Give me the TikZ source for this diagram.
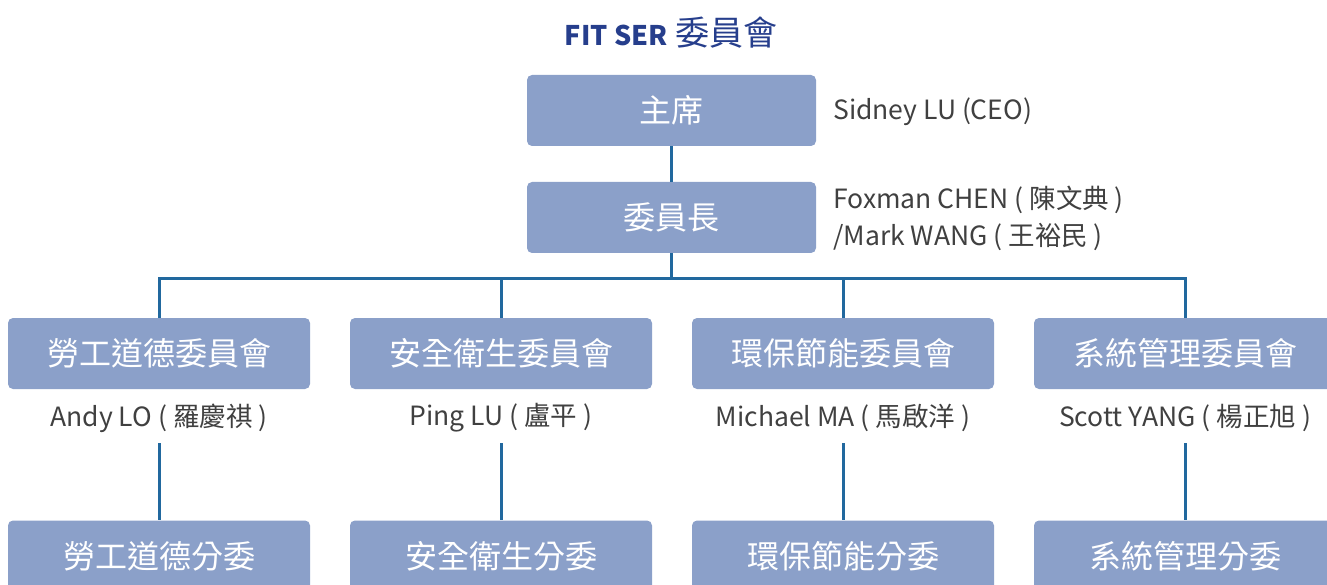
\documentclass[tikz,border=0pt]{standalone}
\usepackage{fontspec}
\setmainfont{Noto Sans CJK TC}
\definecolor{boxfill}{RGB}{139,160,201}
\definecolor{linkblue}{RGB}{33,104,158}
\definecolor{titleblue}{RGB}{38,62,140}
\definecolor{namegray}{RGB}{64,64,64}
\tikzset{
  unitbox/.style={fill=boxfill, rounded corners=5pt, minimum width=302pt, minimum height=71pt,
    inner sep=0pt, text=white, font=\fontsize{32}{38}\selectfont},
  topbox/.style={unitbox, minimum width=289pt},
  person/.style={text=namegray, inner sep=0pt, font=\fontsize{26.5}{37}\selectfont},
  link/.style={draw=linkblue, line width=3pt}
}
\begin{document}
\begin{tikzpicture}[x=1pt,y=-1pt]
    \useasboundingbox (0,0) rectangle (1327,585);
    \clip (0,0) rectangle (1327,585);
    % title
    \node[text=titleblue, font=\fontsize{34}{40}\selectfont] (title) at (671,33)
      {{\fontsize{27}{32}\selectfont\bfseries FIT SER} 委員會};
    % top of the chart
    \node[topbox] (chair) at (671.5,110.5) {主席};
    \node[topbox] (head) at (671.5,217.5) {委員長};
    \node[person, anchor=west] (chairname) at (833,112) {Sidney LU (CEO)};
    \node[person, anchor=west, align=left] (headname) at (833,218) {Foxman CHEN ( 陳文典 )\\/Mark WANG ( 王裕民 )};
    \draw[link] (chair) -- (head);
    \coordinate (bus) at (671.5,278);
    \draw[link] (head) -- (bus);
    % committees
    \node[unitbox] (labour) at (159,353.5) {勞工道德委員會};
    \node[unitbox] (safety) at (501,353.5) {安全衛生委員會};
    \node[unitbox] (env) at (843,353.5) {環保節能委員會};
    \node[unitbox] (sys) at (1185,353.5) {系統管理委員會};
    \draw[link] (labour.north) |- (bus) -| (sys.north);
    \draw[link] (bus) -| (safety.north);
    \draw[link] (bus) -| (env.north);
    % chairs of the committees
    \node[person, minimum height=50pt] (labourname) at (159,418) {Andy LO ( 羅慶祺 )};
    \node[person, minimum height=50pt] (safetyname) at (501,418) {Ping LU ( 盧平 )};
    \node[person, minimum height=50pt] (envname) at (843,418) {Michael MA ( 馬啟洋 )};
    \node[person, minimum height=50pt] (sysname) at (1185,418) {Scott YANG ( 楊正旭 )};
    % sub-committees
    \node[unitbox] (laboursub) at (159,556) {勞工道德分委};
    \node[unitbox] (safetysub) at (501,556) {安全衛生分委};
    \node[unitbox] (envsub) at (843,556) {環保節能分委};
    \node[unitbox] (syssub) at (1185,556) {系統管理分委};
    \draw[link] (labourname) -- (laboursub);
    \draw[link] (safetyname) -- (safetysub);
    \draw[link] (envname) -- (envsub);
    \draw[link] (sysname) -- (syssub);
\end{tikzpicture}
\end{document}
